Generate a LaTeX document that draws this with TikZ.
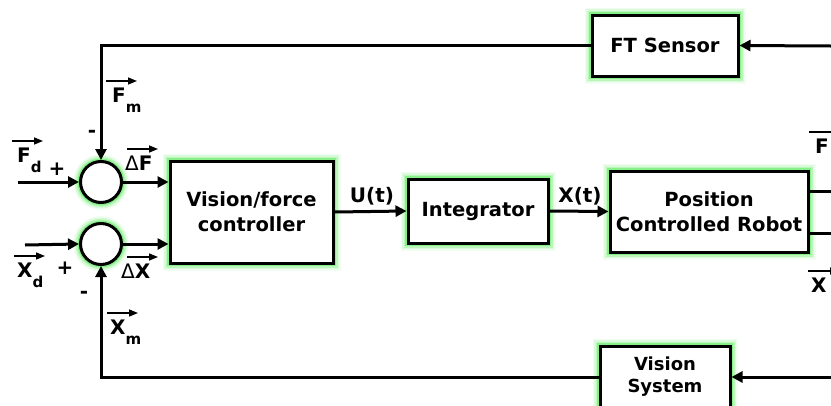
\documentclass[tikz,border=0pt]{standalone}
\usepackage{fontspec}
\setmainfont{DejaVu Sans}
\usetikzlibrary{arrows.meta}
\definecolor{glow}{RGB}{60,230,60}
\newcommand{\subs}[1]{\raisebox{-10pt}{\fontsize{15}{17}\selectfont #1}}
% label with a vector arrow over it: name, position, text, arrow offset
\newcommand{\vecnode}[4]{
    \node[lbl, anchor=north west] (#1) at (#2) {#3};
    \draw[vecarrow] ([shift={(#4,-7)}]#1.north west) -- ++(31,0);
}
\tikzset{
    halo/.style={preaction={draw=glow, line width=15pt, opacity=.07},
                 preaction={draw=glow, line width=12pt, opacity=.12},
                 preaction={draw=glow, line width=9pt, opacity=.2},
                 preaction={draw=glow, line width=6pt, opacity=.4}},
    block/.style={draw, line width=3pt, fill=white, halo, align=center,
                  inner sep=0pt, font=\fontsize{19.5}{25}\selectfont\bfseries},
    sumnode/.style={circle, draw, line width=3pt, fill=white, halo,
                    minimum size=41pt, inner sep=0pt},
    lbl/.style={inner sep=0pt, font=\fontsize{20}{22}\selectfont\bfseries},
    tip/.style={line width=3pt, -{Triangle[length=11pt,width=11pt]}},
    vecarrow/.style={line width=1.5pt, -{Triangle[length=9pt,width=7pt]}}
}
\begin{document}
\begin{tikzpicture}[x=1pt,y=-1pt]
\useasboundingbox (0,0) rectangle (831,405);
\clip (0,0) rectangle (831,405);
\node[sumnode] (sumF) at (101,182) {};
\node[sumnode] (sumX) at (101,244) {};
\node[block, minimum width=163pt, minimum height=102pt] (ctrl) at (251.5,212) {Vision/force\\controller};
\node[block, minimum width=140pt, minimum height=64pt] (integ) at (478,211) {Integrator};
\node[block, minimum width=198pt, minimum height=81pt] (robot) at (709,211.5) {Position\\Controlled Robot};
\node[block, minimum width=146pt, minimum height=61pt] (ft) at (665,45.5) {FT Sensor};
\node[block, minimum width=130pt, minimum height=62pt, font=\fontsize{18}{22}\selectfont\bfseries] (vis) at (665,377) {Vision\\System};
\coordinate (fin) at (18,182);
\coordinate (xin) at (25,245);
\coordinate (ftin) at (831,46);
\coordinate (visin) at (831,377);
\coordinate (fout) at (831,191);
\coordinate (xout) at (831,233);
\draw[tip] (fin) -- (sumF.west);
\draw[tip] (xin) -- (sumX.west);
\draw[tip] (sumF.east) -- (ctrl.west |- sumF.east);
\draw[tip] (sumX.east) -- (ctrl.west |- sumX.east);
\draw[tip] (ctrl.east) -- (integ.west);
\draw[tip] (integ.east) -- (robot.west);
\draw[line width=3pt] (robot.east |- fout) -- (fout);
\draw[line width=3pt] (robot.east |- xout) -- (xout);
\draw[tip] (ftin) -- (ft.east);
\draw[tip] (ft.west) -| (sumF.north);
\draw[tip] (visin) -- (vis.east);
\draw[tip] (vis.west) -| (sumX.south);
\node[lbl] (ulbl) at (372,196) {U(t)};
\node[lbl] (xlbl) at (580,196) {X(t)};
\node[lbl] (pF) at (57,169) {+};
\node[lbl] (pX) at (65,268) {+};
\node[lbl] (mF) at (92,134) {-};
\node[lbl] (mX) at (84,295) {-};
\vecnode{fd}{17,148}{F\subs{d}}{-5}
\vecnode{xd}{17,263}{X\subs{d}}{-3}
\vecnode{fm}{112,88}{F\subs{m}}{-6}
\vecnode{xm}{110,320}{X\subs{m}}{-3}
\vecnode{df}{125,156}{{\mdseries Δ}F}{2}
\vecnode{dx}{121,264}{{\mdseries Δ}X}{6}
\vecnode{fr}{815,139}{F}{-6}
\vecnode{xr}{811,278}{X}{-3}
\end{tikzpicture}
\end{document}
